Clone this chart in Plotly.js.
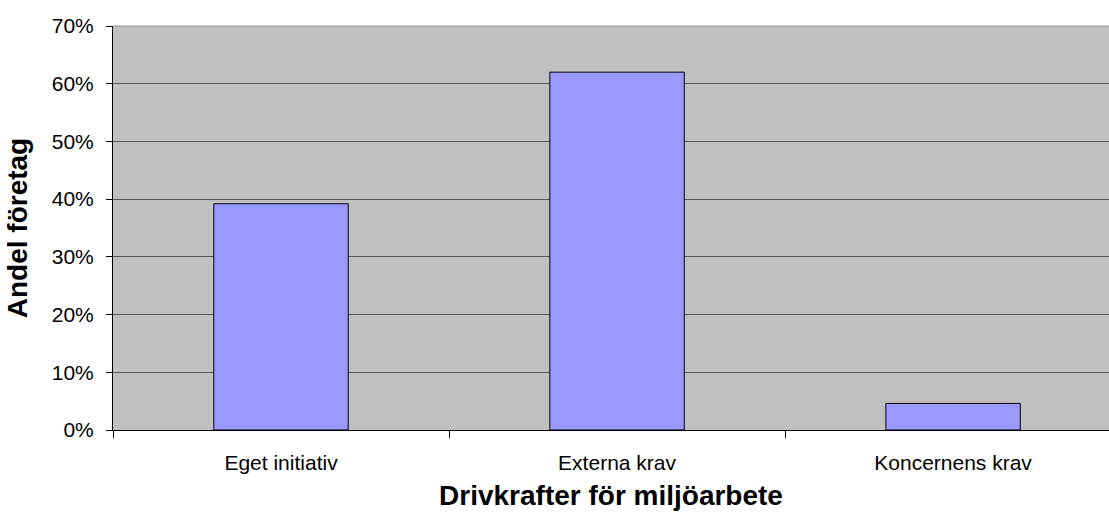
<!DOCTYPE html>
<html>
<head>
<meta charset="utf-8">
<script src="https://cdn.plot.ly/plotly-3.0.1.min.js"></script>
<style>html,body{margin:0;padding:0;background:#fff;overflow:hidden}</style>
</head>
<body>
<div id="chart" style="width:1109px;height:520px"></div>
<script>
const categories = ["Eget initiativ", "Externa krav", "Koncernens krav"];
const shares = [0.392, 0.62, 0.046];
const xTitle = "Drivkrafter för miljöarbete";
const yTitle = "Andel företag";

const FONT = "Liberation Sans, Arial, sans-serif";

const trace = {
  type: "bar",
  x: categories,
  y: shares,
  marker: {color: "#9999FF", line: {color: "#000000", width: 1}},
  hoverinfo: "skip"
};

const layout = {
  width: 1109,
  height: 520,
  margin: {l: 113, r: 0, t: 26, b: 90},
  paper_bgcolor: "#ffffff",
  plot_bgcolor: "#C0C0C0",
  showlegend: false,
  bargap: 0.6,
  font: {family: FONT, color: "#000000", size: 20},
  xaxis: {
    type: "category",
    range: [-0.5, 2.464],
    showline: true, linecolor: "#000000", linewidth: 1,
    ticks: "outside", tickson: "boundaries", ticklen: 7, tickcolor: "#000000", tickwidth: 1,
    ticklabelstandoff: 14,
    showgrid: false,
    tickfont: {family: FONT, size: 21, color: "#000000"},
    title: {text: xTitle, font: {family: FONT, size: 28, color: "#000000", weight: "bold"}, standoff: 12}
  },
  yaxis: {
    range: [0, 0.7],
    dtick: 0.1,
    tickformat: ".0%",
    showline: true, linecolor: "#000000", linewidth: 1,
    ticks: "outside", ticklen: 6, tickcolor: "#000000", tickwidth: 1,
    ticklabelstandoff: 8,
    showgrid: true, gridcolor: "#555555", gridwidth: 1,
    zeroline: false,
    tickfont: {family: FONT, size: 21, color: "#000000"},
    title: {text: yTitle, font: {family: FONT, size: 28, color: "#000000", weight: "bold"}, standoff: 15}
  },
  shapes: [
    {type: "line", xref: "paper", yref: "paper", x0: 0, x1: 1, y0: 1, y1: 1,
     line: {color: "#999999", width: 1}}
  ]
};

Plotly.newPlot("chart", [trace], layout, {displayModeBar: false, staticPlot: true});
</script>
</body>
</html>
